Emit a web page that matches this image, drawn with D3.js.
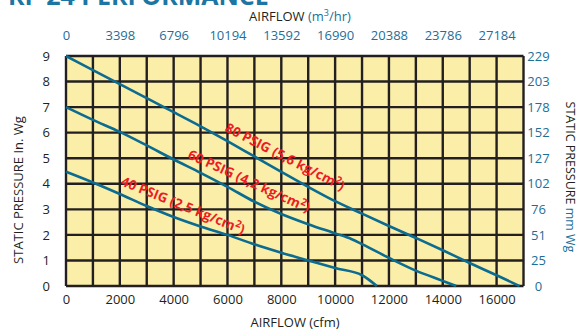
<!DOCTYPE html>
<html>
<head>
<meta charset="utf-8">
<script src="https://cdn.jsdelivr.net/npm/d3@7"></script>
<style>
  body { margin: 0; background: #fff; }
  svg { display: block; font-family: "Open Sans", sans-serif; }
</style>
</head>
<body>
<svg id="chart" width="581" height="331"></svg>
<script>
  // airflow (cfm) ticks, with matching m3/hr labels on top
  var cfmTicks = [0, 2000, 4000, 6000, 8000, 10000, 12000, 14000, 16000];
  var m3hrLabels = ['0', '3398', '6796', '10194', '13592', '16990', '20388', '23786', '27184'];
  // static pressure ticks (in. Wg), with matching mm Wg labels on the right
  var inWgTicks = [0, 1, 2, 3, 4, 5, 6, 7, 8, 9];
  var mmWgLabels = ['0', '25', '51', '76', '102', '127', '152', '178', '203', '229'];

  // curves: airflow (cfm) vs static pressure (in. Wg)
  var cfm80 = [0, 1000, 2000, 3000, 4000, 5000, 6000, 7000, 8000, 9000, 10000, 11000, 12000, 13000, 14000, 15000, 16000, 16850];
  var sp80 = [9, 8.45, 7.9, 7.35, 6.8, 6.25, 5.67, 5.07, 4.47, 3.88, 3.32, 2.83, 2.35, 1.88, 1.4, 0.9, 0.42, 0];
  var cfm60 = [0, 1000, 2000, 3000, 4000, 5000, 6000, 7000, 8000, 9000, 10000, 10600, 11000, 12000, 13000, 14000, 14500];
  var sp60 = [7, 6.5, 6.03, 5.5, 4.95, 4.43, 3.88, 3.3, 2.82, 2.42, 2.06, 1.84, 1.64, 1.1, 0.6, 0.2, 0];
  var cfm40 = [0, 1000, 2000, 3000, 4000, 5000, 6000, 7000, 8000, 9000, 10000, 11000, 11550];
  var sp40 = [4.47, 4.05, 3.6, 3.13, 2.7, 2.33, 2.0, 1.63, 1.3, 1.0, 0.7, 0.42, 0];

  var curveLabels = ['80 PSIG (5,6 kg/cm', '60 PSIG (4,2 kg/cm', '40 PSIG (2,5 kg/cm'];

  var black = '#231f20';
  var blue = '#1d6f98';
  var curveBlue = '#0b6b90';
  var red = '#ed1c24';

  var svg = d3.select('#chart');

  var x = d3.scaleLinear().domain([0, 17000]).range([66, 523.5]);
  var y = d3.scaleLinear().domain([0, 9]).range([286, 56]);

  // title (cut off at top)
  svg.append('text')
    .attr('x', 8)
    .attr('y', 5)
    .attr('fill', '#1b76a3')
    .attr('font-size', 25)
    .attr('font-weight', 700)
    .text('RF-24 PERFORMANCE');

  // plot background
  svg.append('rect')
    .attr('x', x(0))
    .attr('y', y(9))
    .attr('width', x(17000) - x(0))
    .attr('height', y(0) - y(9))
    .attr('fill', '#fbeea8');

  // grid
  var grid = svg.append('g').attr('stroke', black).attr('stroke-width', 2.4);
  grid.selectAll('line.v')
    .data(d3.range(0, 17001, 1000))
    .enter().append('line')
    .attr('class', 'v')
    .attr('x1', function (d) { return x(d); })
    .attr('x2', function (d) { return x(d); })
    .attr('y1', y(9))
    .attr('y2', y(0));
  grid.selectAll('line.h')
    .data(inWgTicks)
    .enter().append('line')
    .attr('class', 'h')
    .attr('x1', x(0))
    .attr('x2', x(17000))
    .attr('y1', function (d) { return y(d); })
    .attr('y2', function (d) { return y(d); });

  // curves
  var line = d3.line()
    .x(function (d) { return x(d[0]); })
    .y(function (d) { return y(d[1]); })
    .curve(d3.curveMonotoneX);

  [[cfm80, sp80], [cfm60, sp60], [cfm40, sp40]].forEach(function (s) {
    svg.append('path')
      .attr('d', line(d3.zip(s[0], s[1])))
      .attr('fill', 'none')
      .attr('stroke', curveBlue)
      .attr('stroke-width', 2.6);
  });

  // axes
  function styleAxis(g, color) {
    g.select('.domain').remove();
    g.selectAll('.tick line').remove();
    g.selectAll('.tick text')
      .attr('font-family', '"Open Sans", sans-serif')
      .attr('font-size', 13)
      .attr('fill', color);
  }

  svg.append('g')
    .attr('transform', 'translate(0,' + (y(0) + 4) + ')')
    .call(d3.axisBottom(x).tickValues(cfmTicks).tickSize(0).tickPadding(5).tickFormat(d3.format('d')))
    .call(styleAxis, black);

  svg.append('g')
    .attr('transform', 'translate(0,' + (y(9) - 12) + ')')
    .call(d3.axisTop(x).tickValues(cfmTicks).tickSize(0).tickPadding(4)
      .tickFormat(function (d, i) { return m3hrLabels[i]; }))
    .call(styleAxis, blue);

  svg.append('g')
    .attr('transform', 'translate(' + (x(0) - 16) + ',0)')
    .call(d3.axisLeft(y).tickValues(inWgTicks).tickSize(0).tickPadding(0).tickFormat(d3.format('d')))
    .call(styleAxis, black);

  svg.append('g')
    .attr('transform', 'translate(' + (x(17000) + 15) + ',0)')
    .call(d3.axisRight(y).tickValues(inWgTicks).tickSize(0).tickPadding(0)
      .tickFormat(function (d, i) { return mmWgLabels[i]; }))
    .call(styleAxis, blue)
    .selectAll('.tick text').attr('text-anchor', 'middle');

  // axis titles
  svg.append('text')
    .attr('x', 295).attr('y', 327)
    .attr('text-anchor', 'middle')
    .attr('font-size', 13)
    .attr('fill', black)
    .text('AIRFLOW (cfm)');

  var topTitle = svg.append('text')
    .attr('x', 300).attr('y', 21)
    .attr('text-anchor', 'middle')
    .attr('font-size', 13)
    .attr('fill', black);
  topTitle.append('tspan').text('AIRFLOW ');
  topTitle.append('tspan').attr('fill', blue).text('(m');
  topTitle.append('tspan').attr('fill', blue).attr('font-size', 9).attr('dy', -5).text('3');
  topTitle.append('tspan').attr('fill', blue).attr('dy', 5).text('/hr)');

  svg.append('text')
    .attr('transform', 'translate(23,190) rotate(-90)')
    .attr('text-anchor', 'middle')
    .attr('font-size', 13)
    .attr('fill', black)
    .text('STATIC PRESSURE In. Wg');

  var rightTitle = svg.append('text')
    .attr('transform', 'translate(566,177) rotate(90)')
    .attr('text-anchor', 'middle')
    .attr('font-size', 12.5)
    .attr('fill', black);
  rightTitle.append('tspan').text('STATIC PRESSURE ');
  rightTitle.append('tspan').attr('fill', blue).text('mm Wg');

  // curve labels: baseline start x, y and angle
  var labelPos = [[224, 131, 27], [187, 158, 24.5], [120, 185, 22]];
  curveLabels.forEach(function (t, i) {
    var p = labelPos[i];
    var txt = svg.append('text')
      .attr('transform', 'translate(' + p[0] + ',' + p[1] + ') rotate(' + p[2] + ')')
      .attr('font-size', 13.5)
      .attr('font-weight', 700)
      .attr('fill', red);
    txt.append('tspan').text(t);
    txt.append('tspan').attr('font-size', 10).attr('dy', -5).text('2');
    txt.append('tspan').attr('dy', 5).text(')');
  });
</script>
</body>
</html>
